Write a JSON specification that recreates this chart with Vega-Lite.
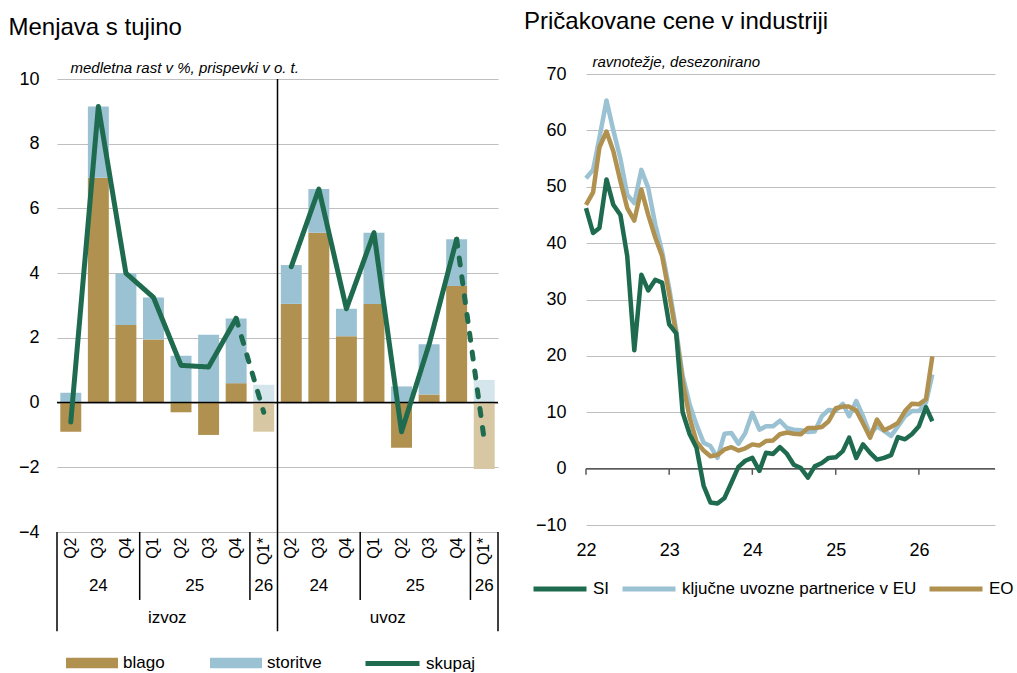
{
  "$schema": "https://vega.github.io/schema/vega-lite/v6.json",
  "background": "white",
  "padding": {"left": 8, "top": 10, "right": 2, "bottom": 0},
  "spacing": 25,
  "config": {
    "font": "Liberation Sans",
    "view": {"stroke": null},
    "axis": {"labelFont": "Liberation Sans", "labelColor": "black", "titleFont": "Liberation Sans", "titleColor": "black", "titleFontWeight": "normal"},
    "legend": {"labelFont": "Liberation Sans", "labelColor": "black", "labelLimit": 400},
    "title": {"font": "Liberation Sans", "fontWeight": "normal", "fontSize": 24, "color": "black", "anchor": "start", "frame": "bounds"},
    "text": {"font": "Liberation Sans"}
  },
  "resolve": {"scale": {"stroke": "independent", "fill": "independent", "strokeDash": "independent", "x": "independent", "y": "independent"}, "legend": {"stroke": "independent", "fill": "independent"}},
  "hconcat": [
    {
      "width": 441,
      "height": 458,
      "title": {"text": "Menjava s tujino", "dx": -10, "offset": 20},
      "layer": [
        {
          "data": {"values": [
            {"kat": "izvoz Q2 24", "komponenta": "blago", "vrednost": -0.9},
            {"kat": "izvoz Q2 24", "komponenta": "storitve", "vrednost": 0.3},
            {"kat": "izvoz Q3 24", "komponenta": "blago", "vrednost": 6.95},
            {"kat": "izvoz Q3 24", "komponenta": "storitve", "vrednost": 2.2},
            {"kat": "izvoz Q4 24", "komponenta": "blago", "vrednost": 2.4},
            {"kat": "izvoz Q4 24", "komponenta": "storitve", "vrednost": 1.6},
            {"kat": "izvoz Q1 25", "komponenta": "blago", "vrednost": 1.95},
            {"kat": "izvoz Q1 25", "komponenta": "storitve", "vrednost": 1.3},
            {"kat": "izvoz Q2 25", "komponenta": "blago", "vrednost": -0.3},
            {"kat": "izvoz Q2 25", "komponenta": "storitve", "vrednost": 1.45},
            {"kat": "izvoz Q3 25", "komponenta": "blago", "vrednost": -1.0},
            {"kat": "izvoz Q3 25", "komponenta": "storitve", "vrednost": 2.1},
            {"kat": "izvoz Q4 25", "komponenta": "blago", "vrednost": 0.6},
            {"kat": "izvoz Q4 25", "komponenta": "storitve", "vrednost": 2.0},
            {"kat": "izvoz Q1* 26", "komponenta": "blago (napoved)", "vrednost": -0.9},
            {"kat": "izvoz Q1* 26", "komponenta": "storitve (napoved)", "vrednost": 0.55},
            {"kat": "uvoz Q2 24", "komponenta": "blago", "vrednost": 3.05},
            {"kat": "uvoz Q2 24", "komponenta": "storitve", "vrednost": 1.2},
            {"kat": "uvoz Q3 24", "komponenta": "blago", "vrednost": 5.25},
            {"kat": "uvoz Q3 24", "komponenta": "storitve", "vrednost": 1.35},
            {"kat": "uvoz Q4 24", "komponenta": "blago", "vrednost": 2.05},
            {"kat": "uvoz Q4 24", "komponenta": "storitve", "vrednost": 0.85},
            {"kat": "uvoz Q1 25", "komponenta": "blago", "vrednost": 3.05},
            {"kat": "uvoz Q1 25", "komponenta": "storitve", "vrednost": 2.2},
            {"kat": "uvoz Q2 25", "komponenta": "blago", "vrednost": -1.4},
            {"kat": "uvoz Q2 25", "komponenta": "storitve", "vrednost": 0.5},
            {"kat": "uvoz Q3 25", "komponenta": "blago", "vrednost": 0.25},
            {"kat": "uvoz Q3 25", "komponenta": "storitve", "vrednost": 1.55},
            {"kat": "uvoz Q4 25", "komponenta": "blago", "vrednost": 3.6},
            {"kat": "uvoz Q4 25", "komponenta": "storitve", "vrednost": 1.45},
            {"kat": "uvoz Q1* 26", "komponenta": "blago (napoved)", "vrednost": -2.05},
            {"kat": "uvoz Q1* 26", "komponenta": "storitve (napoved)", "vrednost": 0.7}
          ]},
          "mark": {"type": "bar", "width": {"band": 0.76}},
          "encoding": {
            "x": {"field": "kat", "type": "nominal",
              "sort": ["izvoz Q2 24","izvoz Q3 24","izvoz Q4 24","izvoz Q1 25","izvoz Q2 25","izvoz Q3 25","izvoz Q4 25","izvoz Q1* 26","uvoz Q2 24","uvoz Q3 24","uvoz Q4 24","uvoz Q1 25","uvoz Q2 25","uvoz Q3 25","uvoz Q4 25","uvoz Q1* 26"],
              "scale": {"paddingInner": 0, "paddingOuter": 0},
              "axis": {"title": null, "labelExpr": "split(datum.value, ' ')[1]", "labelAngle": 270, "labelFontSize": 16, "labelPadding": 5, "ticks": false, "domain": false, "grid": false, "labelOverlap": false}},
            "y": {"field": "vrednost", "type": "quantitative", "stack": "zero",
              "scale": {"domain": [-4, 10.155], "nice": false},
              "axis": {"title": "medletna rast v %, prispevki v o. t.", "titleAngle": 0, "titleAlign": "left", "titleBaseline": "alphabetic", "titleX": 13, "titleY": -2, "titleFontStyle": "italic", "titleFontSize": 15,
                "values": [-4, -2, 0, 2, 4, 6, 8, 10], "labelFontSize": 18, "labelPadding": 18, "ticks": false, "domain": false, "grid": true, "gridColor": "#BFBFBF", "gridWidth": 1}},
            "fill": {"field": "komponenta", "type": "nominal",
              "scale": {"domain": ["blago", "storitve", "blago (napoved)", "storitve (napoved)"], "range": ["#B09150", "#9BC2D2", "#D7C8A3", "#D4E5EC"]},
              "legend": {"orient": "none", "legendX": 9, "legendY": 563, "direction": "horizontal", "title": null, "values": ["blago", "storitve"], "symbolType": "M-1,-0.2L1,-0.2L1,0.2L-1,0.2Z", "symbolSize": 2704, "symbolStrokeWidth": 0, "symbolOpacity": 1, "labelFontSize": 17, "labelOffset": 5, "columnPadding": 45}},
            "order": {"field": "komponenta"}
          }
        },
        {
          "data": {"values": [{}]},
          "mark": {"type": "rule", "color": "black", "strokeWidth": 1.5},
          "encoding": {"y": {"datum": 0}}
        },
        {
          "data": {"values": [
            {"kat": "izvoz Q2 24", "skupina": "izvoz", "tip": "ocena", "serija": "skupaj", "vrednost": -0.6},
            {"kat": "izvoz Q3 24", "skupina": "izvoz", "tip": "ocena", "serija": "skupaj", "vrednost": 9.15},
            {"kat": "izvoz Q4 24", "skupina": "izvoz", "tip": "ocena", "serija": "skupaj", "vrednost": 4.0},
            {"kat": "izvoz Q1 25", "skupina": "izvoz", "tip": "ocena", "serija": "skupaj", "vrednost": 3.25},
            {"kat": "izvoz Q2 25", "skupina": "izvoz", "tip": "ocena", "serija": "skupaj", "vrednost": 1.15},
            {"kat": "izvoz Q3 25", "skupina": "izvoz", "tip": "ocena", "serija": "skupaj", "vrednost": 1.1},
            {"kat": "izvoz Q4 25", "skupina": "izvoz", "tip": "ocena", "serija": "skupaj", "vrednost": 2.6},
            {"kat": "izvoz Q4 25", "skupina": "izvoz", "tip": "napoved", "serija": "skupaj", "vrednost": 2.6},
            {"kat": "izvoz Q1* 26", "skupina": "izvoz", "tip": "napoved", "serija": "skupaj", "vrednost": -0.3},
            {"kat": "uvoz Q2 24", "skupina": "uvoz", "tip": "ocena", "serija": "skupaj", "vrednost": 4.2},
            {"kat": "uvoz Q3 24", "skupina": "uvoz", "tip": "ocena", "serija": "skupaj", "vrednost": 6.6},
            {"kat": "uvoz Q4 24", "skupina": "uvoz", "tip": "ocena", "serija": "skupaj", "vrednost": 2.9},
            {"kat": "uvoz Q1 25", "skupina": "uvoz", "tip": "ocena", "serija": "skupaj", "vrednost": 5.25},
            {"kat": "uvoz Q2 25", "skupina": "uvoz", "tip": "ocena", "serija": "skupaj", "vrednost": -0.9},
            {"kat": "uvoz Q3 25", "skupina": "uvoz", "tip": "ocena", "serija": "skupaj", "vrednost": 1.8},
            {"kat": "uvoz Q4 25", "skupina": "uvoz", "tip": "ocena", "serija": "skupaj", "vrednost": 5.05},
            {"kat": "uvoz Q4 25", "skupina": "uvoz", "tip": "napoved", "serija": "skupaj", "vrednost": 5.05},
            {"kat": "uvoz Q1* 26", "skupina": "uvoz", "tip": "napoved", "serija": "skupaj", "vrednost": -1.15}
          ]},
          "mark": {"type": "line", "strokeWidth": 5, "strokeCap": "round", "strokeJoin": "round"},
          "encoding": {
            "x": {"field": "kat", "type": "nominal",
              "sort": ["izvoz Q2 24","izvoz Q3 24","izvoz Q4 24","izvoz Q1 25","izvoz Q2 25","izvoz Q3 25","izvoz Q4 25","izvoz Q1* 26","uvoz Q2 24","uvoz Q3 24","uvoz Q4 24","uvoz Q1 25","uvoz Q2 25","uvoz Q3 25","uvoz Q4 25","uvoz Q1* 26"]},
            "y": {"field": "vrednost", "type": "quantitative"},
            "stroke": {"field": "serija", "type": "nominal", "scale": {"domain": ["skupaj"], "range": ["#1F6B4F"]},
              "legend": {"orient": "none", "legendX": 306, "legendY": 560, "direction": "horizontal", "title": null, "symbolType": "stroke", "symbolSize": 2916, "symbolStrokeWidth": 5, "labelFontSize": 17, "labelOffset": 4}},
            "strokeDash": {"field": "tip", "type": "nominal", "scale": {"domain": ["ocena", "napoved"], "range": [[1, 0], [7, 12]]}, "legend": null},
            "detail": {"field": "skupina"}
          }
        },
        {
          "data": {"values": [{"kat": "uvoz Q2 24"}]},
          "mark": {"type": "rule", "color": "black", "strokeWidth": 1.5},
          "encoding": {
            "x": {"field": "kat", "type": "nominal", "bandPosition": 0,
              "sort": ["izvoz Q2 24","izvoz Q3 24","izvoz Q4 24","izvoz Q1 25","izvoz Q2 25","izvoz Q3 25","izvoz Q4 25","izvoz Q1* 26","uvoz Q2 24","uvoz Q3 24","uvoz Q4 24","uvoz Q1 25","uvoz Q2 25","uvoz Q3 25","uvoz Q4 25","uvoz Q1* 26"]},
            "y": {"datum": 10}, "y2": {"datum": -7.07}
          }
        },
        {
          "data": {"values": [{"kat": "izvoz Q2 24"}]},
          "mark": {"type": "rule", "color": "black", "strokeWidth": 1.5},
          "encoding": {
            "x": {"field": "kat", "type": "nominal", "bandPosition": 0,
              "sort": ["izvoz Q2 24","izvoz Q3 24","izvoz Q4 24","izvoz Q1 25","izvoz Q2 25","izvoz Q3 25","izvoz Q4 25","izvoz Q1* 26","uvoz Q2 24","uvoz Q3 24","uvoz Q4 24","uvoz Q1 25","uvoz Q2 25","uvoz Q3 25","uvoz Q4 25","uvoz Q1* 26"]},
            "y": {"datum": -4}, "y2": {"datum": -7.07}
          }
        },
        {
          "data": {"values": [{"kat": "uvoz Q1* 26"}]},
          "mark": {"type": "rule", "color": "black", "strokeWidth": 1.5},
          "encoding": {
            "x": {"field": "kat", "type": "nominal", "bandPosition": 1,
              "sort": ["izvoz Q2 24","izvoz Q3 24","izvoz Q4 24","izvoz Q1 25","izvoz Q2 25","izvoz Q3 25","izvoz Q4 25","izvoz Q1* 26","uvoz Q2 24","uvoz Q3 24","uvoz Q4 24","uvoz Q1 25","uvoz Q2 25","uvoz Q3 25","uvoz Q4 25","uvoz Q1* 26"]},
            "y": {"datum": -4}, "y2": {"datum": -7.07}
          }
        },
        {
          "data": {"values": [{"kat": "izvoz Q1 25"}, {"kat": "izvoz Q1* 26"}, {"kat": "uvoz Q1 25"}, {"kat": "uvoz Q1* 26"}]},
          "mark": {"type": "rule", "color": "black", "strokeWidth": 1.5},
          "encoding": {
            "x": {"field": "kat", "type": "nominal", "bandPosition": 0,
              "sort": ["izvoz Q2 24","izvoz Q3 24","izvoz Q4 24","izvoz Q1 25","izvoz Q2 25","izvoz Q3 25","izvoz Q4 25","izvoz Q1* 26","uvoz Q2 24","uvoz Q3 24","uvoz Q4 24","uvoz Q1 25","uvoz Q2 25","uvoz Q3 25","uvoz Q4 25","uvoz Q1* 26"]},
            "y": {"datum": -4}, "y2": {"datum": -6.1}
          }
        },
        {
          "data": {"values": [{"kat": "izvoz Q3 24", "oznaka": "24"}, {"kat": "izvoz Q1* 26", "oznaka": "26"}, {"kat": "uvoz Q3 24", "oznaka": "24"}, {"kat": "uvoz Q1* 26", "oznaka": "26"}]},
          "mark": {"type": "text", "fontSize": 17, "color": "black", "baseline": "middle", "align": "center"},
          "encoding": {
            "x": {"field": "kat", "type": "nominal", "bandPosition": 0.5,
              "sort": ["izvoz Q2 24","izvoz Q3 24","izvoz Q4 24","izvoz Q1 25","izvoz Q2 25","izvoz Q3 25","izvoz Q4 25","izvoz Q1* 26","uvoz Q2 24","uvoz Q3 24","uvoz Q4 24","uvoz Q1 25","uvoz Q2 25","uvoz Q3 25","uvoz Q4 25","uvoz Q1* 26"]},
            "y": {"datum": -5.67},
            "text": {"field": "oznaka"}
          }
        },
        {
          "data": {"values": [{"kat": "izvoz Q3 25", "oznaka": "25"}, {"kat": "uvoz Q3 25", "oznaka": "25"}]},
          "mark": {"type": "text", "fontSize": 17, "color": "black", "baseline": "middle", "align": "center"},
          "encoding": {
            "x": {"field": "kat", "type": "nominal", "bandPosition": 0,
              "sort": ["izvoz Q2 24","izvoz Q3 24","izvoz Q4 24","izvoz Q1 25","izvoz Q2 25","izvoz Q3 25","izvoz Q4 25","izvoz Q1* 26","uvoz Q2 24","uvoz Q3 24","uvoz Q4 24","uvoz Q1 25","uvoz Q2 25","uvoz Q3 25","uvoz Q4 25","uvoz Q1* 26"]},
            "y": {"datum": -5.67},
            "text": {"field": "oznaka"}
          }
        },
        {
          "data": {"values": [{"kat": "izvoz Q2 25", "oznaka": "izvoz"}, {"kat": "uvoz Q2 25", "oznaka": "uvoz"}]},
          "mark": {"type": "text", "fontSize": 17, "color": "black", "baseline": "middle", "align": "center"},
          "encoding": {
            "x": {"field": "kat", "type": "nominal", "bandPosition": 0,
              "sort": ["izvoz Q2 24","izvoz Q3 24","izvoz Q4 24","izvoz Q1 25","izvoz Q2 25","izvoz Q3 25","izvoz Q4 25","izvoz Q1* 26","uvoz Q2 24","uvoz Q3 24","uvoz Q4 24","uvoz Q1 25","uvoz Q2 25","uvoz Q3 25","uvoz Q4 25","uvoz Q1* 26"]},
            "y": {"datum": -6.65},
            "text": {"field": "oznaka"}
          }
        }
      ]
    },
    {
      "width": 409,
      "height": 451,
      "title": {"text": "Pričakovane cene v industriji", "dx": -7, "offset": 20},
      "layer": [
        {
          "data": {"values": [{}]},
          "mark": {"type": "rule", "color": "#595959", "strokeWidth": 1.5},
          "encoding": {"y": {"datum": 0, "type": "quantitative", "scale": {"domain": [-10, 70], "nice": false}}}
        },
        {
          "data": {"values": [{"leto": "2022-01-01"}, {"leto": "2023-01-01"}, {"leto": "2024-01-01"}, {"leto": "2025-01-01"}, {"leto": "2026-01-01"}]},
          "mark": {"type": "rule", "color": "#595959", "strokeWidth": 1.5},
          "encoding": {
            "x": {"field": "leto", "type": "temporal", "scale": {"type": "utc", "domain": [{"year": 2022, "month": 1, "date": 1, "utc": true}, {"year": 2026, "month": 12, "date": 1, "utc": true}]}},
            "y": {"datum": 0, "type": "quantitative"}, "y2": {"datum": -1.1}
          }
        },
        {
          "data": {"values": [
            {"mesec": "2022-01-01", "SI": 46.2, "ključne uvozne partnerice v EU": 51.5, "EO": 46.8},
            {"mesec": "2022-02-01", "SI": 41.8, "ključne uvozne partnerice v EU": 53.0, "EO": 49.0},
            {"mesec": "2022-03-01", "SI": 42.7, "ključne uvozne partnerice v EU": 58.7, "EO": 57.0},
            {"mesec": "2022-04-01", "SI": 51.3, "ključne uvozne partnerice v EU": 65.3, "EO": 59.8},
            {"mesec": "2022-05-01", "SI": 46.8, "ključne uvozne partnerice v EU": 60.0, "EO": 56.3},
            {"mesec": "2022-06-01", "SI": 45.0, "ključne uvozne partnerice v EU": 55.0, "EO": 51.0},
            {"mesec": "2022-07-01", "SI": 37.7, "ključne uvozne partnerice v EU": 48.6, "EO": 46.2},
            {"mesec": "2022-08-01", "SI": 21.0, "ključne uvozne partnerice v EU": 47.1, "EO": 44.0},
            {"mesec": "2022-09-01", "SI": 34.4, "ključne uvozne partnerice v EU": 53.0, "EO": 49.5},
            {"mesec": "2022-10-01", "SI": 31.6, "ključne uvozne partnerice v EU": 49.8, "EO": 45.0},
            {"mesec": "2022-11-01", "SI": 33.5, "ključne uvozne partnerice v EU": 43.3, "EO": 41.0},
            {"mesec": "2022-12-01", "SI": 33.0, "ključne uvozne partnerice v EU": 38.5, "EO": 37.7},
            {"mesec": "2023-01-01", "SI": 25.6, "ključne uvozne partnerice v EU": 32.0, "EO": 31.0},
            {"mesec": "2023-02-01", "SI": 24.0, "ključne uvozne partnerice v EU": 24.5, "EO": 23.8},
            {"mesec": "2023-03-01", "SI": 10.0, "ključne uvozne partnerice v EU": 16.5, "EO": 15.5},
            {"mesec": "2023-04-01", "SI": 6.1, "ključne uvozne partnerice v EU": 11.4, "EO": 9.0},
            {"mesec": "2023-05-01", "SI": 3.7, "ključne uvozne partnerice v EU": 7.8, "EO": 4.8},
            {"mesec": "2023-06-01", "SI": -3.0, "ključne uvozne partnerice v EU": 4.6, "EO": 3.2},
            {"mesec": "2023-07-01", "SI": -6.0, "ključne uvozne partnerice v EU": 4.0, "EO": 2.2},
            {"mesec": "2023-08-01", "SI": -6.2, "ključne uvozne partnerice v EU": 1.9, "EO": 2.4},
            {"mesec": "2023-09-01", "SI": -5.2, "ključne uvozne partnerice v EU": 6.2, "EO": 3.4},
            {"mesec": "2023-10-01", "SI": -2.5, "ključne uvozne partnerice v EU": 6.3, "EO": 3.8},
            {"mesec": "2023-11-01", "SI": 0.3, "ključne uvozne partnerice v EU": 4.4, "EO": 3.2},
            {"mesec": "2023-12-01", "SI": 1.4, "ključne uvozne partnerice v EU": 6.3, "EO": 3.6},
            {"mesec": "2024-01-01", "SI": 1.9, "ključne uvozne partnerice v EU": 9.9, "EO": 4.3},
            {"mesec": "2024-02-01", "SI": -0.4, "ključne uvozne partnerice v EU": 6.9, "EO": 4.1},
            {"mesec": "2024-03-01", "SI": 2.8, "ključne uvozne partnerice v EU": 7.5, "EO": 4.9},
            {"mesec": "2024-04-01", "SI": 2.6, "ključne uvozne partnerice v EU": 7.5, "EO": 5.0},
            {"mesec": "2024-05-01", "SI": 3.8, "ključne uvozne partnerice v EU": 8.5, "EO": 6.1},
            {"mesec": "2024-06-01", "SI": 2.6, "ključne uvozne partnerice v EU": 7.2, "EO": 6.4},
            {"mesec": "2024-07-01", "SI": 0.7, "ključne uvozne partnerice v EU": 6.9, "EO": 6.2},
            {"mesec": "2024-08-01", "SI": 0.1, "ključne uvozne partnerice v EU": 6.8, "EO": 6.1},
            {"mesec": "2024-09-01", "SI": -1.6, "ključne uvozne partnerice v EU": 6.5, "EO": 7.2},
            {"mesec": "2024-10-01", "SI": 0.4, "ključne uvozne partnerice v EU": 6.6, "EO": 7.2},
            {"mesec": "2024-11-01", "SI": 1.0, "ključne uvozne partnerice v EU": 9.3, "EO": 7.4},
            {"mesec": "2024-12-01", "SI": 1.9, "ključne uvozne partnerice v EU": 10.4, "EO": 8.4},
            {"mesec": "2025-01-01", "SI": 2.0, "ključne uvozne partnerice v EU": 10.3, "EO": 10.7},
            {"mesec": "2025-02-01", "SI": 3.1, "ključne uvozne partnerice v EU": 11.5, "EO": 11.0},
            {"mesec": "2025-03-01", "SI": 5.5, "ključne uvozne partnerice v EU": 9.3, "EO": 11.0},
            {"mesec": "2025-04-01", "SI": 1.9, "ključne uvozne partnerice v EU": 12.0, "EO": 10.3},
            {"mesec": "2025-05-01", "SI": 4.3, "ključne uvozne partnerice v EU": 9.3, "EO": 8.0},
            {"mesec": "2025-06-01", "SI": 2.8, "ključne uvozne partnerice v EU": 6.1, "EO": 5.5},
            {"mesec": "2025-07-01", "SI": 1.6, "ključne uvozne partnerice v EU": 7.5, "EO": 8.7},
            {"mesec": "2025-08-01", "SI": 1.9, "ključne uvozne partnerice v EU": 6.7, "EO": 6.8},
            {"mesec": "2025-09-01", "SI": 2.4, "ključne uvozne partnerice v EU": 5.8, "EO": 7.4},
            {"mesec": "2025-10-01", "SI": 5.6, "ključne uvozne partnerice v EU": 7.5, "EO": 8.1},
            {"mesec": "2025-11-01", "SI": 5.2, "ključne uvozne partnerice v EU": 9.3, "EO": 10.2},
            {"mesec": "2025-12-01", "SI": 6.1, "ključne uvozne partnerice v EU": 10.2, "EO": 11.5},
            {"mesec": "2026-01-01", "SI": 7.5, "ključne uvozne partnerice v EU": 10.2, "EO": 11.4},
            {"mesec": "2026-02-01", "SI": 10.9, "ključne uvozne partnerice v EU": 11.7, "EO": 12.3},
            {"mesec": "2026-03-01", "SI": 8.4, "ključne uvozne partnerice v EU": 16.7, "EO": 19.9}
          ]},
          "transform": [{"fold": ["ključne uvozne partnerice v EU", "EO", "SI"], "as": ["serija", "vrednost"]}],
          "mark": {"type": "line", "strokeWidth": 4.5, "strokeJoin": "round"},
          "encoding": {
            "x": {"field": "mesec", "type": "temporal",
              "scale": {"type": "utc", "domain": [{"year": 2022, "month": 1, "date": 1, "utc": true}, {"year": 2026, "month": 12, "date": 1, "utc": true}]},
              "axis": {"title": null, "values": [{"year": 2022, "month": 1, "date": 1, "utc": true}, {"year": 2023, "month": 1, "date": 1, "utc": true}, {"year": 2024, "month": 1, "date": 1, "utc": true}, {"year": 2025, "month": 1, "date": 1, "utc": true}, {"year": 2026, "month": 1, "date": 1, "utc": true}],
                "format": "%y", "labelFontSize": 18, "labelPadding": 16, "labelFlush": false, "ticks": false, "domain": false, "grid": false}},
            "y": {"field": "vrednost", "type": "quantitative",
              "scale": {"domain": [-10, 70], "nice": false},
              "axis": {"title": "ravnotežje, desezonirano", "titleAngle": 0, "titleAlign": "left", "titleBaseline": "alphabetic", "titleX": 6, "titleY": -8, "titleFontStyle": "italic", "titleFontSize": 15,
                "values": [-10, 0, 10, 20, 30, 40, 50, 60, 70], "labelFontSize": 18, "labelPadding": 20, "ticks": false, "domain": false, "grid": true, "gridColor": "#BFBFBF", "gridWidth": 1}},
            "stroke": {"field": "serija", "type": "nominal",
              "scale": {"domain": ["SI", "ključne uvozne partnerice v EU", "EO"], "range": ["#1F6B4F", "#9BC2D2", "#B09150"]},
              "legend": {"orient": "none", "legendX": -55, "legendY": 486, "direction": "horizontal", "title": null, "symbolType": "stroke", "symbolSize": 2809, "symbolStrokeWidth": 5, "labelFontSize": 17, "labelOffset": 4, "columnPadding": 2}}
          }
        }
      ]
    }
  ]
}
